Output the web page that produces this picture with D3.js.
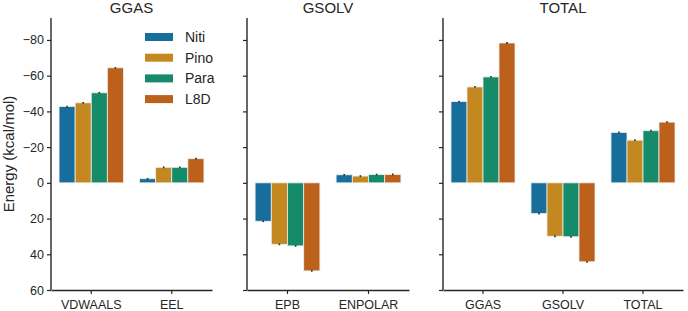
<!DOCTYPE html>
<html>
<head>
    <script src="https://d3js.org/d3.v7.min.js"></script>
    <style>
        body { margin: 0; background: #fff; }
        text { font-family: "Liberation Sans", Arial, sans-serif; fill: #262626; }
    </style>
</head>
<body>
    <div id="chart"></div>
    <script>
        // data (energies in kcal/mol)
        var systems = ["Niti", "Pino", "Para", "L8D"];
        var colors = ["#176d9c", "#c38820", "#168b6a", "#bb611b"];

        var panelTitles = ["GGAS", "GSOLV", "TOTAL"];
        var ggasTerms = ["VDWAALS", "EEL"];
        var gsolvTerms = ["EPB", "ENPOLAR"];
        var totalTerms = ["GGAS", "GSOLV", "TOTAL"];

        // one array per term, values in the order of systems
        var vdwaals = [-42.7, -44.8, -50.4, -64.4];
        var eel = [-2.3, -8.7, -8.7, -13.5];
        var epb = [21.5, 34.4, 35.3, 49.3];
        var enpolar = [-4.5, -3.8, -4.6, -4.7];
        var ggas = [-45.5, -53.7, -59.3, -78.3];
        var gsolv = [17.2, 29.9, 30.2, 44.2];
        var total = [-28.2, -23.9, -29.2, -34.0];

        var errs = [0.5, 0.5, 0.5, 0.5];

        var yTicks = [-80, -60, -40, -20, 0, 20, 40, 60];

        var panels = [
            { title: panelTitles[0], terms: ggasTerms, values: [vdwaals, eel], x0: 51, x1: 212 },
            { title: panelTitles[1], terms: gsolvTerms, values: [epb, enpolar], x0: 247, x1: 409 },
            { title: panelTitles[2], terms: totalTerms, values: [ggas, gsolv, total], x0: 443, x1: 683 }
        ];

        var width = 688, height = 311;

        var svg = d3.select("#chart")
            .append("svg")
            .attr("width", width)
            .attr("height", height);

        // y axis is inverted: negative energies on top
        var y = d3.scaleLinear()
            .domain([-92.3, 60])
            .range([18, 290]);

        var fmt = function (d) { return d < 0 ? "\u2212" + Math.abs(d) : "" + d; };

        panels.forEach(function (p, pi) {
            var g = svg.append("g");

            var x = d3.scaleBand()
                .domain(p.terms)
                .range([p.x0, p.x1])
                .padding(0);

            var inner = d3.scaleBand()
                .domain(systems)
                .range([0, x.bandwidth() * 0.8])
                .padding(0);

            // bars
            p.terms.forEach(function (term, ti) {
                var grp = g.append("g")
                    .attr("transform", "translate(" + (x(term) + x.bandwidth() * 0.1) + ",0)");

                var rows = systems.map(function (s, si) {
                    return { sys: s, v: p.values[ti][si], e: errs[si], c: colors[si] };
                });

                grp.selectAll("rect")
                    .data(rows)
                    .join("rect")
                    .attr("x", function (d) { return inner(d.sys); })
                    .attr("width", inner.bandwidth())
                    .attr("y", function (d) { return Math.min(y(0), y(d.v)); })
                    .attr("height", function (d) { return Math.abs(y(d.v) - y(0)); })
                    .attr("fill", function (d) { return d.c; })
                    .attr("stroke", "#eeeeee")
                    .attr("stroke-width", 0.8);

                grp.selectAll("line.err")
                    .data(rows)
                    .join("line")
                    .attr("class", "err")
                    .attr("x1", function (d) { return inner(d.sys) + inner.bandwidth() / 2; })
                    .attr("x2", function (d) { return inner(d.sys) + inner.bandwidth() / 2; })
                    .attr("y1", function (d) { return y(d.v - d.e); })
                    .attr("y2", function (d) { return y(d.v + d.e); })
                    .attr("stroke", "#333")
                    .attr("stroke-width", 1.6);
            });

            // axes
            var yAxis = d3.axisLeft(y)
                .tickValues(yTicks)
                .tickSize(4)
                .tickPadding(3)
                .tickFormat(pi === 0 ? fmt : "");

            var ya = g.append("g")
                .attr("transform", "translate(" + p.x0 + ",0)")
                .call(yAxis);
            ya.select(".domain").attr("d", "M0,18V290");

            var xa = g.append("g")
                .attr("transform", "translate(0,290)")
                .call(d3.axisBottom(x).tickSize(4).tickPadding(6).tickSizeOuter(0));

            [ya, xa].forEach(function (a) {
                a.select(".domain").attr("stroke", "#262626").attr("stroke-width", 1.4);
                a.selectAll(".tick line").attr("stroke", "#262626").attr("stroke-width", 1.2);
                a.selectAll(".tick text")
                    .style("font-family", "Liberation Sans, Arial, sans-serif")
                    .style("font-size", "12.5px")
                    .attr("fill", "#262626");
            });

            g.append("text")
                .attr("x", (p.x0 + p.x1) / 2)
                .attr("y", 13)
                .attr("text-anchor", "middle")
                .style("font-size", "15px")
                .text(p.title);
        });

        // y label
        svg.append("text")
            .attr("transform", "translate(14,154) rotate(-90)")
            .attr("text-anchor", "middle")
            .style("font-size", "15px")
            .text("Energy (kcal/mol)");

        // legend
        var legend = svg.append("g")
            .selectAll("g")
            .data(systems)
            .join("g")
            .attr("transform", function (d, i) { return "translate(145," + (37 + i * 20.7) + ")"; });

        legend.append("rect")
            .attr("x", 0)
            .attr("y", -4)
            .attr("width", 28)
            .attr("height", 8)
            .attr("fill", function (d, i) { return colors[i]; });

        legend.append("text")
            .attr("x", 40)
            .attr("y", 5)
            .style("font-size", "14px")
            .text(function (d) { return d; });
    </script>
</body>
</html>
